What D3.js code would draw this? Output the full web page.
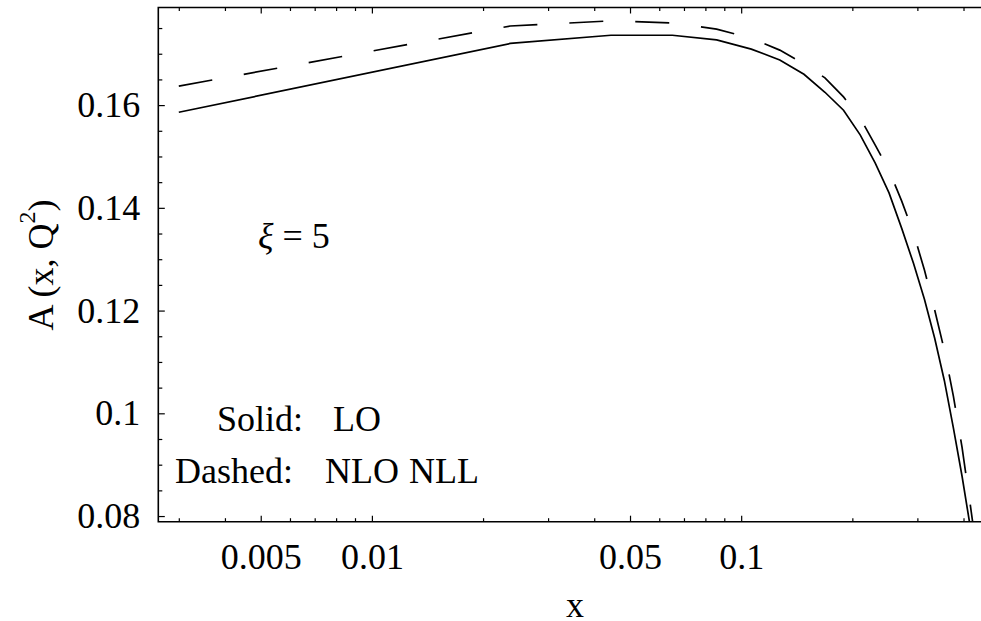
<!DOCTYPE html>
<html>
<head>
<meta charset="utf-8">
<script src="https://cdn.jsdelivr.net/npm/d3@7"></script>
<style>
  body { margin: 0; background: #fff; }
  text { font-family: "Liberation Serif", "Times New Roman", serif; fill: #000; }
</style>
</head>
<body>
<svg id="chart" width="981" height="621"></svg>
<script>
// sample points in x (linear spacing, as the plot was sampled)
var xValues = [0.003, 0.0237, 0.0444, 0.0651, 0.0858, 0.1065, 0.1272, 0.1479, 0.1686, 0.1893,
  0.2100, 0.2307, 0.2514, 0.2721, 0.2928, 0.3135, 0.3342, 0.3549, 0.3756, 0.3963, 0.4170, 0.4377];
// solid: LO
var loValues = [0.1586, 0.1720, 0.1736, 0.1736, 0.1727, 0.1709, 0.1688, 0.1660, 0.1625, 0.1590,
  0.1542, 0.1487, 0.1429, 0.1360, 0.1292, 0.1222, 0.1146, 0.1064, 0.0971, 0.0878, 0.0780, 0.0670];
// dashed: NLO NLL
var nloValues = [0.1637, 0.1754, 0.1764, 0.1760, 0.1748, 0.1730, 0.1707, 0.1680, 0.1653, 0.1616,
  0.1575, 0.1522, 0.1473, 0.1413, 0.1351, 0.1279, 0.1201, 0.1123, 0.1033, 0.0934, 0.0823, 0.0714];

var xMajorTicks = [0.005, 0.01, 0.05, 0.1];
var xMajorLabels = ["0.005", "0.01", "0.05", "0.1"];
var xMinorTicks = [0.003, 0.004, 0.006, 0.007, 0.008, 0.009, 0.02, 0.03, 0.04,
  0.06, 0.07, 0.08, 0.09, 0.2, 0.3, 0.4];
var yMajorTicks = [0.08, 0.1, 0.12, 0.14, 0.16];
var yMajorLabels = ["0.08", "0.1", "0.12", "0.14", "0.16"];
var yMinorTicks = [0.085, 0.09, 0.095, 0.105, 0.11, 0.115, 0.125, 0.13, 0.135,
  0.145, 0.15, 0.155, 0.165, 0.17, 0.175];

var plotLeft = 158.3, plotTop = 7.5, plotBottom = 521.7, plotRight = 999.3;

var svg = d3.select("#chart");

var x = d3.scaleLog().domain([0.00264, 0.5]).range([plotLeft, plotRight]);
var y = d3.scaleLinear().domain([0.0789, 0.1790]).range([plotBottom, plotTop]);

svg.append("defs").append("clipPath").attr("id", "plotclip")
  .append("rect")
  .attr("x", plotLeft).attr("y", plotTop)
  .attr("width", plotRight - plotLeft).attr("height", plotBottom - plotTop);

var rows = xValues.map(function(d, i) {
  return { x: d, lo: loValues[i], nlo: nloValues[i] };
});

var plot = svg.append("g").attr("clip-path", "url(#plotclip)");

plot.append("path")
  .datum(rows)
  .attr("fill", "none")
  .attr("stroke", "#000")
  .attr("stroke-width", 1.7)
  .attr("d", d3.line().x(function(d) { return x(d.x); }).y(function(d) { return y(d.lo); }));

plot.append("path")
  .datum(rows)
  .attr("fill", "none")
  .attr("stroke", "#000")
  .attr("stroke-width", 1.7)
  .attr("stroke-dasharray", "34,32")
  .attr("d", d3.line().x(function(d) { return x(d.x); }).y(function(d) { return y(d.nlo); }));

// axes, ticks pointing inward
function styleAxis(g) {
  g.select(".domain").remove();
  g.selectAll(".tick line").attr("stroke", "#000").attr("stroke-width", 1.2);
  g.selectAll("text").attr("font-size", 36).attr("fill", "#000")
    .attr("font-family", "Liberation Serif, Times New Roman, serif");
}

svg.append("g")
  .attr("transform", "translate(0," + plotBottom + ")")
  .call(d3.axisBottom(x).tickValues(xMajorTicks).tickSize(-6).tickPadding(22)
    .tickFormat(function(d, i) { return xMajorLabels[i]; }))
  .call(styleAxis);

svg.append("g")
  .attr("transform", "translate(0," + plotBottom + ")")
  .call(d3.axisBottom(x).tickValues(xMinorTicks).tickSize(-3.5).tickFormat(""))
  .call(styleAxis);

svg.append("g")
  .attr("transform", "translate(0," + plotTop + ")")
  .call(d3.axisTop(x).tickValues(xMajorTicks).tickSize(-6).tickFormat(""))
  .call(styleAxis);

svg.append("g")
  .attr("transform", "translate(0," + plotTop + ")")
  .call(d3.axisTop(x).tickValues(xMinorTicks).tickSize(-3.5).tickFormat(""))
  .call(styleAxis);

svg.append("g")
  .attr("transform", "translate(" + plotLeft + ",0)")
  .call(d3.axisLeft(y).tickValues(yMajorTicks).tickSize(-6.5).tickPadding(18)
    .tickFormat(function(d, i) { return yMajorLabels[i]; }))
  .call(styleAxis);

svg.append("g")
  .attr("transform", "translate(" + plotLeft + ",0)")
  .call(d3.axisLeft(y).tickValues(yMinorTicks).tickSize(-4).tickFormat(""))
  .call(styleAxis);

// frame (right side is cut off by the picture)
svg.append("path")
  .attr("fill", "none")
  .attr("stroke", "#000")
  .attr("stroke-width", 1.6)
  .attr("d", "M" + plotRight + "," + plotTop + "H" + plotLeft + "V" + plotBottom + "H" + plotRight);

// labels
svg.append("text")
  .attr("x", 575).attr("y", 617)
  .attr("text-anchor", "middle")
  .attr("font-size", 36)
  .text("x");

var ylab = svg.append("text")
  .attr("transform", "translate(53,265) rotate(-90)")
  .attr("text-anchor", "middle")
  .attr("font-size", 36);
ylab.append("tspan").text("A (x, Q");
ylab.append("tspan").attr("font-size", 24).attr("dy", -18).text("2");
ylab.append("tspan").attr("dy", 18).text(")");

var xi = svg.append("text")
  .attr("x", 258).attr("y", 248)
  .attr("font-size", 36);
xi.append("tspan").attr("font-style", "italic").text("ξ");
xi.append("tspan").text(" = 5");

svg.append("text").attr("x", 303).attr("y", 431).attr("text-anchor", "end")
  .attr("font-size", 36).text("Solid:");
svg.append("text").attr("x", 333).attr("y", 431)
  .attr("font-size", 36).text("LO");
svg.append("text").attr("x", 293).attr("y", 482.5).attr("text-anchor", "end")
  .attr("font-size", 36).text("Dashed:");
svg.append("text").attr("x", 325).attr("y", 482.5)
  .attr("font-size", 36).text("NLO");
svg.append("text").attr("x", 409).attr("y", 482.5)
  .attr("font-size", 36).text("NLL");
</script>
</body>
</html>
